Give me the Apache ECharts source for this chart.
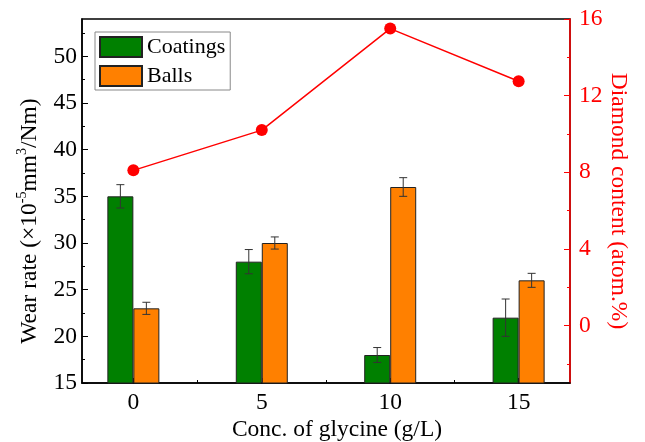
<!DOCTYPE html>
<html>
<head>
<meta charset="utf-8">
<script src="https://cdn.jsdelivr.net/npm/echarts@6/dist/echarts.min.js"></script>
<style>html,body{margin:0;padding:0;background:#fff;}#c{width:645px;height:442px;}</style>
</head>
<body>
<div id="c"></div>
<script>
const concentrations = [0, 5, 10, 15];
const coatingsWear = [35, 28, 18, 22];
const coatingsErr = [1.25, 1.3, 0.8, 2.0];
const ballsWear = [23, 30, 36, 26];
const ballsErr = [0.65, 0.65, 1.0, 0.75];
const diamondContent = [8.1, 10.2, 15.5, 12.75];

const leftTicks = [15, 20, 25, 30, 35, 40, 45, 50];
const leftMinorTicks = [17.5, 22.5, 27.5, 32.5, 37.5, 42.5, 47.5, 52.5];
const rightTicks = [0, 4, 8, 12, 16];
const rightMinorTicks = [-2, 2, 6, 10, 14];
const xTicks = [0, 5, 10, 15];
const xMinorTicks = [2.5, 7.5, 12.5];

const FONT = 'Liberation Serif';
const BAR_W = 26;
const FS = 23.5;

const pair = (xs, ys) => xs.map((x, i) => [x, ys[i]]);
const triple = (xs, ys, es) => xs.map((x, i) => [x, ys[i], es[i]]);

function errRender(offset) {
  return function (params, api) {
    const x = api.value(0), y = api.value(1), e = api.value(2);
    const t = api.coord([x, y + e]);
    const b = api.coord([x, y - e]);
    const cx = t[0] + offset;
    const st = { stroke: '#333', lineWidth: 1 };
    return {
      type: 'group',
      children: [
        { type: 'line', shape: { x1: cx, y1: t[1], x2: cx, y2: b[1] }, style: st },
        { type: 'line', shape: { x1: cx - 4, y1: t[1], x2: cx + 4, y2: t[1] }, style: st },
        { type: 'line', shape: { x1: cx - 4, y1: b[1], x2: cx + 4, y2: b[1] }, style: st }
      ]
    };
  };
}

const chart = echarts.init(document.getElementById('c'), null, { renderer: 'canvas' });
chart.setOption({
  animation: false,
  backgroundColor: '#fff',
  textStyle: { fontFamily: FONT },
  grid: { left: 82, right: 75, top: 19, bottom: 59, show: true, borderColor: '#000', borderWidth: 1.5, containLabel: false, outerBoundsMode: 'none' },
  legend: {
    orient: 'vertical', left: 95, top: 32,
    data: ['Coatings', 'Balls'],
    icon: 'rect',
    itemWidth: 42, itemHeight: 20, itemGap: 7,
    padding: [4, 5, 3, 4],
    borderColor: '#888', borderWidth: 1,
    textStyle: { fontFamily: FONT, fontSize: 22, color: '#000' }
  },
  xAxis: [
    {
      type: 'value', min: -2, max: 17, position: 'bottom',
      name: 'Conc. of glycine (g/L)', nameLocation: 'middle', nameGap: 35, nameMoveOverlap: false,
      nameTextStyle: { fontFamily: FONT, fontSize: FS, color: '#000', padding: [0, 0, 0, 22] },
      axisLine: { onZero: false, lineStyle: { color: '#000', width: 1.5 } },
      axisTick: { inside: true, length: 5, customValues: xTicks, lineStyle: { color: '#000' } },
      axisLabel: { customValues: xTicks, fontFamily: FONT, fontSize: FS, color: '#000', margin: 8 },
      splitLine: { show: false }
    },
    {
      type: 'value', min: -2, max: 17, position: 'bottom',
      axisLine: { show: false, onZero: false },
      axisTick: { inside: true, length: 3, customValues: xMinorTicks, lineStyle: { color: '#000' } },
      axisLabel: { show: false },
      splitLine: { show: false }
    }
  ],
  yAxis: [
    {
      type: 'value', min: 15, max: 54, position: 'left',
      name: '{n|Wear rate (×10}{s|-5}{n|mm}{s|3}{n|/Nm)}',
      nameLocation: 'middle', nameGap: 40, nameRotate: 90, nameMoveOverlap: false,
      nameTextStyle: {
        padding: [0, 40, 0, 0],
        rich: {
          n: { fontFamily: FONT, fontSize: FS, color: '#000', lineHeight: 27, verticalAlign: 'bottom' },
          s: { fontFamily: FONT, fontSize: 14, color: '#000', lineHeight: 27, verticalAlign: 'top' }
        }
      },
      axisLine: { show: true, onZero: false, lineStyle: { color: '#000', width: 1.5 } },
      axisTick: { show: true, inside: true, length: 6, customValues: leftTicks, lineStyle: { color: '#000' } },
      axisLabel: { customValues: leftTicks, fontFamily: FONT, fontSize: FS, color: '#000', margin: 5 },
      splitLine: { show: false }
    },
    {
      type: 'value', min: -3, max: 16, position: 'right',
      name: 'Diamond content (atom.%)',
      nameLocation: 'middle', nameGap: 36, nameRotate: -90, nameMoveOverlap: false,
      nameTextStyle: { fontFamily: FONT, fontSize: FS, color: '#ff0000' },
      axisLine: { show: true, onZero: false, lineStyle: { color: '#ff0000', width: 1.5 } },
      axisTick: { show: true, inside: true, length: 6, customValues: rightTicks, lineStyle: { color: '#ff0000' } },
      axisLabel: { customValues: rightTicks, fontFamily: FONT, fontSize: FS, color: '#ff0000', margin: 9 },
      splitLine: { show: false }
    },
    {
      type: 'value', min: 15, max: 54, position: 'left',
      axisLine: { show: false, onZero: false },
      axisTick: { show: true, inside: true, length: 3, customValues: leftMinorTicks, lineStyle: { color: '#000' } },
      axisLabel: { show: false },
      splitLine: { show: false }
    },
    {
      type: 'value', min: -3, max: 16, position: 'right',
      axisLine: { show: false, onZero: false },
      axisTick: { show: true, inside: true, length: 3, customValues: rightMinorTicks, lineStyle: { color: '#ff0000' } },
      axisLabel: { show: false },
      splitLine: { show: false }
    }
  ],
  series: [
    {
      name: 'Coatings', type: 'bar', xAxisIndex: 0, yAxisIndex: 0,
      data: pair(concentrations, coatingsWear),
      barWidth: BAR_W, barGap: '0%',
      itemStyle: { color: '#008000', borderColor: '#222', borderWidth: 1 }
    },
    {
      name: 'Balls', type: 'bar', xAxisIndex: 0, yAxisIndex: 0,
      data: pair(concentrations, ballsWear),
      barWidth: BAR_W, barGap: '0%',
      itemStyle: { color: '#ff8000', borderColor: '#222', borderWidth: 1 }
    },
    {
      type: 'custom', xAxisIndex: 0, yAxisIndex: 0, z: 5,
      renderItem: errRender(-BAR_W / 2),
      encode: { x: 0, y: 1 },
      data: triple(concentrations, coatingsWear, coatingsErr)
    },
    {
      type: 'custom', xAxisIndex: 0, yAxisIndex: 0, z: 5,
      renderItem: errRender(BAR_W / 2),
      encode: { x: 0, y: 1 },
      data: triple(concentrations, ballsWear, ballsErr)
    },
    {
      name: 'Diamond', type: 'line', xAxisIndex: 0, yAxisIndex: 1, z: 6,
      data: pair(concentrations, diamondContent),
      symbol: 'circle', symbolSize: 12,
      lineStyle: { color: '#ff0000', width: 1.5 },
      itemStyle: { color: '#ff0000' }
    }
  ]
});
</script>
</body>
</html>
